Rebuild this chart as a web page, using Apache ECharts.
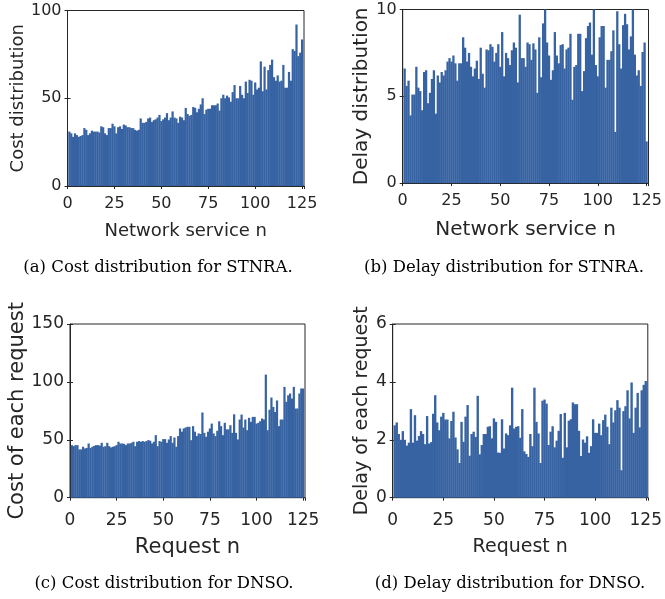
<!DOCTYPE html>
<html>
<head>
<meta charset="utf-8">
<title>Cost and delay distribution</title>
<script src="https://cdn.jsdelivr.net/npm/echarts@6/dist/echarts.min.js"></script>
<style>html,body{margin:0;padding:0;background:#fff;}</style>
</head>
<body>
<div id="main" style="width:665px;height:599px;"></div>
<script type="text/javascript">
// index of each service / request (bars 1..125)
var barIndex = [];
for (var i = 1; i <= 125; i++) barIndex.push(i);

// (a) cost per network service, STNRA
var costSTNRA = [
  31, 30, 28, 30, 29, 28, 28.5, 29, 33, 32,
  29, 30, 31.5, 31, 31, 31, 30.5, 34, 33.5, 30,
  29, 33, 33, 35.5, 34, 30, 33.5, 34, 32.5, 35,
  34.5, 33.5, 33.5, 33, 33, 32, 31.5, 32, 38.5, 36,
  36, 36.5, 38.5, 39, 36.5, 37.5, 38, 39, 40.5, 37,
  38, 39, 41.5, 37.5, 39, 42.5, 39, 38.5, 36, 39.5,
  39, 37.5, 44.5, 41, 40, 40.5, 45, 44.5, 42, 44,
  46.5, 50, 41, 43.5, 44, 44, 46, 46, 46, 47,
  43, 50, 52, 50, 51.5, 50.5, 48, 53.5, 57.5, 50,
  50, 57, 52, 50, 59.5, 53, 60.5, 60, 52, 59,
  55, 56, 71, 54, 68, 55, 66, 69, 72, 62,
  60, 63, 59.5, 60, 69, 56, 56, 65, 60, 78,
  77, 92, 74, 76, 83.5
];

// (b) delay per network service, STNRA
var delaySTNRA = [
  6.6, 5.6, 5.9, 3.9, 5.1, 5.1, 6.7, 5.5, 5.3, 4.2,
  6.4, 6.5, 4.6, 5.2, 6.0, 6.5, 4.0, 6.2, 5.8, 6.4,
  6.2, 6.5, 7.0, 7.2, 7.0, 7.35, 6.9, 5.9, 6.9, 6.9,
  8.4, 7.8, 7.0, 7.5, 6.7, 6.15, 6.6, 7.05, 6.0, 7.8,
  6.3, 5.5, 7.7, 7.65, 8.0, 7.85, 7.0, 7.5, 8.0, 6.7,
  8.7, 6.15, 7.5, 7.2, 6.8, 7.65, 8.1, 7.8, 5.8, 9.7,
  7.2, 7.2, 6.7, 8.1, 8.0, 7.1, 8.05, 7.7, 5.2, 8.4,
  6.1, 9.2, 10.0, 8.1, 7.35, 5.95, 6.5, 8.7, 7.35, 6.9,
  7.95, 8.0, 6.6, 7.7, 7.8, 8.6, 4.8, 6.7, 6.8, 8.6,
  8.6, 5.3, 6.45, 8.35, 9.05, 9.25, 7.4, 10.2, 6.8, 6.15,
  8.4, 9.05, 9.05, 5.5, 7.1, 7.1, 7.6, 8.8, 2.95, 9.9,
  8.0, 6.6, 9.1, 9.75, 9.15, 7.7, 8.45, 10.2, 7.4, 6.2,
  6.5, 5.6, 7.55, 8.1, 2.4
];

// (c) cost of each request, DNSO
var costDNSO = [
  45.4, 44.5, 45.4, 45.4, 41.7, 41.7, 44, 42.5, 43, 46.8,
  43, 44, 44.8, 45.4, 45.4, 45, 47.4, 44, 44.5, 47.4,
  44.5, 43.4, 44, 44.5, 45.4, 48.3, 46.8, 46.8, 46.5, 45.4,
  46.8, 46.8, 47.4, 48.3, 44.5, 48.3, 48.9, 48.3, 48.9, 48.3,
  48.9, 49.7, 49.2, 46.8, 48.3, 54, 44.5, 48.9, 48.3, 50.6,
  50.6, 47.4, 50.3, 53.2, 47.4, 52, 44, 53.2, 59.8, 57,
  59.8, 60.6, 61.2, 61.2, 49.7, 61.8, 57, 53.2, 55.5, 55,
  73.6, 56, 52.6, 57, 59.8, 64, 55.5, 53.2, 57.8, 66,
  61.8, 54, 64.7, 59, 59, 62.6, 56, 72, 56, 50.3,
  67.5, 71.8, 60.6, 67.5, 58.3, 69, 65.5, 69.8, 69.8, 64,
  64.7, 66, 68.4, 67.5, 106.3, 58.3, 76, 86.5, 78.4, 74,
  84, 61.8, 67.5, 67.5, 95.7, 82.8, 88.5, 90, 85.6, 95.7,
  77, 77, 90, 94.3, 94.3
];

// (d) delay of each request, DNSO
var delayDNSO = [
  2.5, 2.6, 2.2, 2.0, 2.3, 2.0, 1.8, 1.9, 3.06, 1.9,
  2.85, 1.97, 2.13, 2.3, 2.2, 1.85, 2.82, 1.87, 1.92, 2.9,
  3.54, 2.6, 2.33, 2.8, 2.93, 2.7, 2.7, 2.05, 2.65, 2.97,
  2.08, 1.67, 1.2, 2.62, 1.93, 2.8, 3.2, 1.45, 2.2, 2.28,
  2.1, 3.52, 1.5, 1.82, 2.2, 2.2, 2.45, 2.47, 2.05, 2.74,
  2.62, 1.56, 1.55, 2.71, 1.7, 2.22, 2.16, 2.5, 3.8, 2.39,
  2.45, 2.47, 2.07, 3.06, 1.6, 1.51, 1.41, 2.2, 1.78, 3.8,
  2.62, 2.22, 1.2, 3.35, 3.39, 3.25, 1.82, 2.28, 2.47, 1.74,
  1.97, 2.31, 2.89, 1.38, 2.93, 1.74, 2.66, 2.71, 3.29, 3.23,
  3.23, 2.31, 1.44, 2.01, 1.9, 2.12, 1.55, 1.78, 2.71, 2.24,
  2.24, 2.56, 2.16, 2.68, 2.87, 2.45, 1.85, 3.11, 2.6, 3.02,
  3.37, 3.11, 0.95, 2.99, 3.16, 3.71, 2.74, 3.98, 2.24, 3.11,
  3.62, 2.43, 3.71, 3.9, 4.03
];

var xTicks = [0, 25, 50, 75, 100, 125];
var yMaxList = [100, 10, 150, 6];
var yStepList = [50, 5, 50, 2];
var xNames = ['Network service n', 'Network service n', 'Request n', 'Request n'];
var yNames = ['Cost distribution', 'Delay distribution', 'Cost of each request', 'Delay of each request'];
var captions = [
  '(a) Cost distribution for STNRA.',
  '(b) Delay distribution for STNRA.',
  '(c) Cost distribution for DNSO.',
  '(d) Delay distribution for DNSO.'
];
var seriesList = [costSTNRA, delaySTNRA, costDNSO, delayDNSO];

// layout of the four panels
var panels = [
  {left: 67.5, top: 10.5, width: 236.5, height: 175.5, tickFont: 16, nameFont: 18, yGap: 39, xGap: 36, xMargin: 10, capX: 158, capY: 259},
  {left: 402.7, top: 9.5, width: 245.8, height: 173.6, tickFont: 16, nameFont: 20, yGap: 31, xGap: 37, xMargin: 10, capX: 504, capY: 259},
  {left: 70, top: 324, width: 235, height: 173.7, tickFont: 17, nameFont: 21, yGap: 42, xGap: 39, xMargin: 14, capX: 164, capY: 575},
  {left: 392.7, top: 324, width: 255.7, height: 173.7, tickFont: 17, nameFont: 19, yGap: 20, xGap: 40, xMargin: 14, capX: 510, capY: 575}
];

var axisColor = '#262626';
var grids = [], xAxes = [], yAxes = [], series = [], titles = [];

panels.forEach(function (p, g) {
    var slot = p.width / 126;
    grids.push({
        left: p.left, top: p.top, width: p.width, height: p.height,
        show: true, borderColor: axisColor, borderWidth: 1, backgroundColor: 'transparent'
    });
    // bottom x axis with labels
    xAxes.push({
        type: 'value', gridIndex: g, min: 0, max: 126, interval: 25,
        name: xNames[g], nameLocation: 'middle', nameGap: p.xGap,
        nameTextStyle: {fontFamily: 'DejaVu Sans', fontSize: p.nameFont, color: axisColor},
        axisLine: {show: true, lineStyle: {color: axisColor, width: 1}},
        axisTick: {show: true, inside: true, length: 3, lineStyle: {color: axisColor}},
        axisLabel: {
            margin: p.xMargin, fontFamily: 'DejaVu Sans', fontSize: p.tickFont, color: axisColor,
            showMaxLabel: false,
            formatter: function (v) { return xTicks.indexOf(v) >= 0 ? String(v) : ''; }
        },
        splitLine: {show: false}
    });
    // top x axis, ticks only
    xAxes.push({
        type: 'value', gridIndex: g, position: 'top', min: 0, max: 126, interval: 25,
        axisLine: {show: false},
        axisTick: {show: true, inside: true, length: 3, lineStyle: {color: axisColor}},
        axisLabel: {show: false}, splitLine: {show: false}
    });
    yAxes.push({
        type: 'value', gridIndex: g, min: 0, max: yMaxList[g], interval: yStepList[g],
        name: yNames[g], nameLocation: 'middle', nameGap: p.yGap,
        nameTextStyle: {fontFamily: 'DejaVu Sans', fontSize: p.nameFont, color: axisColor},
        axisLine: {show: true, lineStyle: {color: axisColor, width: 1}},
        axisTick: {show: true, inside: true, length: 3, lineStyle: {color: axisColor}},
        axisLabel: {margin: 6, fontFamily: 'DejaVu Sans', fontSize: p.tickFont, color: axisColor},
        splitLine: {show: false}
    });
    yAxes.push({
        type: 'value', gridIndex: g, position: 'right', min: 0, max: yMaxList[g], interval: yStepList[g],
        axisLine: {show: false},
        axisTick: {show: true, inside: true, length: 3, lineStyle: {color: axisColor}},
        axisLabel: {show: false}, splitLine: {show: false}
    });
    series.push({
        type: 'bar', xAxisIndex: 2 * g, yAxisIndex: 2 * g,
        barWidth: slot + 0.35, barMaxWidth: 4, clip: true,
        itemStyle: {color: '#3763a3'},
        data: barIndex.map(function (k, i) { return [k, seriesList[g][i]]; })
    });
    titles.push({
        text: captions[g], left: p.capX, top: p.capY, textAlign: 'center', padding: 0,
        textStyle: {fontFamily: 'DejaVu Serif', fontSize: 16.5, fontWeight: 'normal', color: '#000'}
    });
});

var myChart = echarts.init(document.getElementById('main'));
myChart.setOption({
    animation: false,
    title: titles,
    grid: grids,
    xAxis: xAxes,
    yAxis: yAxes,
    series: series
});
</script>
</body>
</html>
